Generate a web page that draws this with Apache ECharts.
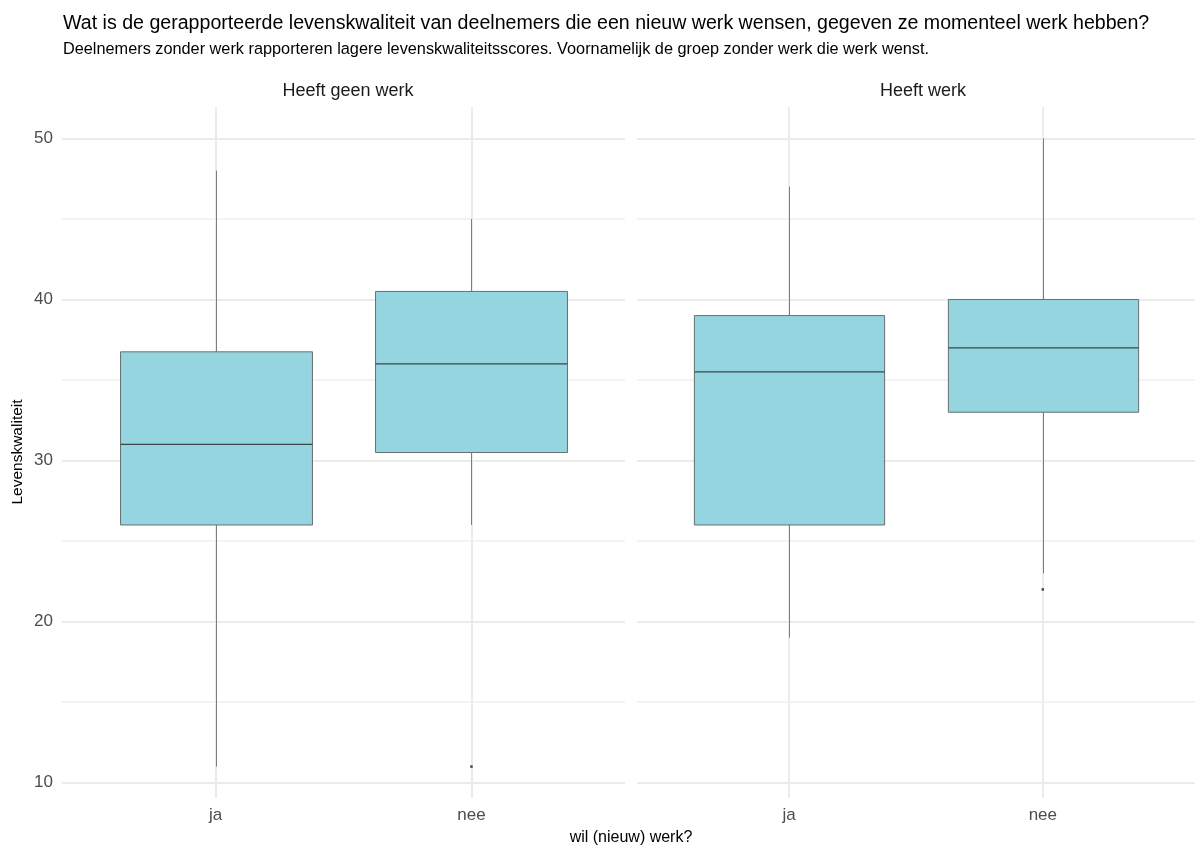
<!DOCTYPE html>
<html>
<head>
<meta charset="utf-8">
<script src="https://cdn.jsdelivr.net/npm/echarts@6/dist/echarts.min.js"></script>
<style>
  html, body { margin: 0; padding: 0; background: #ffffff; }
  #chart { width: 1195px; height: 845px; }
</style>
</head>
<body>
<div id="chart"></div>
<script>
// Categories and facet names
const groups = ['ja', 'nee'];
const panels = ['Heeft geen werk', 'Heeft werk'];
const yTicks = [10, 20, 30, 40, 50];
const yMinor = [15, 25, 35, 45];

// Box statistics per group: [min whisker, Q1, median, Q3, max whisker]
const geenWerkStats = [
  [11, 26, 31, 36.75, 48],
  [26, 30.5, 36, 40.5, 45]
];
const werkStats = [
  [19, 26, 35.5, 39, 47],
  [23, 33, 37, 40, 50]
];

// Outliers per facet: [group index (1-based), value]
const geenWerkOutliers = [[2, 11]];
const werkOutliers = [[2, 22]];

const FONT = 'Liberation Sans, Arial, sans-serif';
const fill = '#94d5df';

function boxData(stats) {
  return stats.map((s, i) => [i + 1].concat(s));
}

function renderBox(params, api) {
  const x = api.value(0);
  const lo = api.coord([x, api.value(1)]);
  const q1 = api.coord([x, api.value(2)]);
  const med = api.coord([x, api.value(3)]);
  const q3 = api.coord([x, api.value(4)]);
  const hi = api.coord([x, api.value(5)]);
  const w = api.size([0.75, 0])[0];
  const cx = Math.round(q1[0]) + 0.5;
  const whisker = { stroke: '#7d7d7d', lineWidth: 1 };
  return {
    type: 'group',
    children: [
      { type: 'line', shape: { x1: cx, y1: hi[1], x2: cx, y2: q3[1] }, style: whisker },
      { type: 'line', shape: { x1: cx, y1: q1[1], x2: cx, y2: lo[1] }, style: whisker },
      { type: 'rect', shape: { x: cx - w / 2, y: q3[1], width: w, height: q1[1] - q3[1] },
        style: { fill: fill, stroke: '#666f71', lineWidth: 1 } },
      { type: 'line', shape: { x1: cx - w / 2, y1: med[1], x2: cx + w / 2, y2: med[1] },
        style: { stroke: '#3d4647', lineWidth: 1.2 } }
    ]
  };
}

const grids = [
  { left: 62, top: 107, width: 563, height: 691 },
  { left: 637, top: 107, width: 563, height: 691 }
];

function xAxis(idx) {
  return {
    type: 'value', gridIndex: idx, min: 0.4, max: 2.6,
    axisLine: { show: false },
    axisTick: { show: false, customValues: [1, 2] },
    axisLabel: {
      customValues: [1, 2], margin: 9, color: '#4d4d4d', fontSize: 17, fontFamily: FONT,
      formatter: v => groups[Math.round(v) - 1]
    },
    splitLine: { show: true, lineStyle: { color: '#ebebeb', width: 2 } }
  };
}

function yAxis(idx) {
  return {
    type: 'value', gridIndex: idx, min: 9.05, max: 51.95,
    axisLine: { show: false },
    axisTick: { show: false, customValues: yTicks },
    axisLabel: {
      show: idx === 0, customValues: yTicks, margin: 9,
      color: '#4d4d4d', fontSize: 17, fontFamily: FONT
    },
    splitLine: { show: true, lineStyle: { color: '#ebebeb', width: 2 } }
  };
}

// Minor horizontal grid lines, kept beneath the boxes
function minorGrid(idx) {
  return {
    type: 'line', xAxisIndex: idx, yAxisIndex: idx, data: [], z: 1, silent: true,
    markLine: {
      z: 1, silent: true, symbol: 'none', label: { show: false }, animation: false,
      lineStyle: { color: '#efefef', width: 1.5, type: 'solid' },
      data: yMinor.map(v => ({ yAxis: v }))
    }
  };
}

const option = {
  backgroundColor: '#ffffff',
  animation: false,
  title: [
    { text: 'Wat is de gerapporteerde levenskwaliteit van deelnemers die een nieuw werk wensen, gegeven ze momenteel werk hebben?',
      left: 58, top: 9,
      textStyle: { fontSize: 19.6, fontWeight: 'normal', color: '#000000', fontFamily: FONT } },
    { text: 'Deelnemers zonder werk rapporteren lagere levenskwaliteitsscores. Voornamelijk de groep zonder werk die werk wenst.',
      left: 58, top: 37,
      textStyle: { fontSize: 16.3, fontWeight: 'normal', color: '#000000', fontFamily: FONT } },
    { text: panels[0], left: 343, top: 77, textAlign: 'center',
      textStyle: { fontSize: 18, fontWeight: 'normal', color: '#1a1a1a', fontFamily: FONT } },
    { text: panels[1], left: 918, top: 77, textAlign: 'center',
      textStyle: { fontSize: 18, fontWeight: 'normal', color: '#1a1a1a', fontFamily: FONT } }
  ],
  graphic: [
    { type: 'text', x: 18, y: 452, rotation: Math.PI / 2,
      style: { text: 'Levenskwaliteit', fontSize: 15.5, fill: '#000000', fontFamily: FONT,
               textAlign: 'center', textVerticalAlign: 'middle' } },
    { type: 'text', x: 631, y: 838,
      style: { text: 'wil (nieuw) werk?', fontSize: 16, fill: '#000000', fontFamily: FONT,
               textAlign: 'center', textVerticalAlign: 'middle' } }
  ],
  grid: grids,
  xAxis: [xAxis(0), xAxis(1)],
  yAxis: [yAxis(0), yAxis(1)],
  series: [
    minorGrid(0),
    minorGrid(1),
    { type: 'custom', name: panels[0], xAxisIndex: 0, yAxisIndex: 0, renderItem: renderBox,
      data: boxData(geenWerkStats), encode: { x: 0, y: [1, 2, 3, 4, 5] }, z: 3 },
    { type: 'custom', name: panels[1], xAxisIndex: 1, yAxisIndex: 1, renderItem: renderBox,
      data: boxData(werkStats), encode: { x: 0, y: [1, 2, 3, 4, 5] }, z: 3 },
    { type: 'scatter', xAxisIndex: 0, yAxisIndex: 0, data: geenWerkOutliers,
      symbol: 'rect', symbolSize: 2.5, itemStyle: { color: '#1a1a1a' }, z: 4 },
    { type: 'scatter', xAxisIndex: 1, yAxisIndex: 1, data: werkOutliers,
      symbol: 'rect', symbolSize: 2.5, itemStyle: { color: '#1a1a1a' }, z: 4 }
  ]
};

const chart = echarts.init(document.getElementById('chart'), null, { renderer: 'canvas' });
chart.setOption(option);
</script>
</body>
</html>
